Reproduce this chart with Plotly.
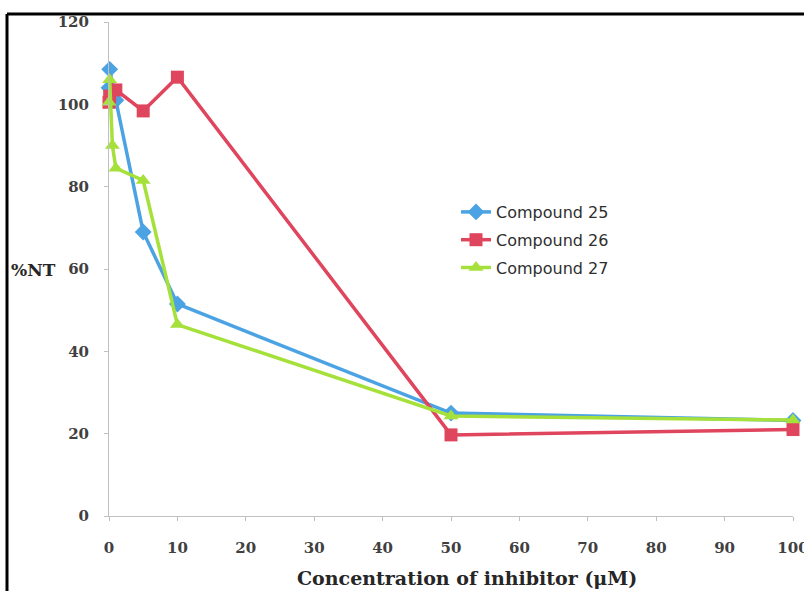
import plotly.graph_objects as go

conc_25 = [0, 0.1, 1, 5, 10, 50, 100]
nt_25 = [104, 108.5, 101, 69, 51.5, 25, 23.2]
conc_26 = [0, 0.1, 1, 5, 10, 50, 100]
nt_26 = [100.5, 102, 103.5, 98.4, 106.6, 19.7, 21]
conc_27 = [0, 0.1, 0.5, 1, 5, 10, 50, 100]
nt_27 = [100.5, 106, 90, 84.5, 81.5, 46.5, 24.3, 23.3]

names = ["Compound 25", "Compound 26", "Compound 27"]
colors = ["#4BA3E3", "#E0455E", "#A6E03A"]
symbols = ["diamond", "square", "triangle-up"]
sizes = [13, 13, 13]
xs = [conc_25, conc_26, conc_27]
ys = [nt_25, nt_26, nt_27]

fig = go.Figure()
for n, c, s, sz, x, y in zip(names, colors, symbols, sizes, xs, ys):
    fig.add_trace(go.Scatter(x=x, y=y, name=n, legendgroup=n, mode="lines+markers",
                             line=dict(color=c, width=3.5),
                             marker=dict(symbol=s, size=sz, color=c),
                             cliponaxis=False))

W, H = 804, 591
x0, x1 = 109, 793
y0, y1 = 516, 22
tickfont = dict(family="DejaVu Serif", size=15, color="#404040", weight="bold")
axis_common = dict(showgrid=False, zeroline=False, showline=True, linecolor="#c0c0c0",
                   linewidth=1, ticks="outside", tickcolor="#c0c0c0", ticklen=4,
                   tickfont=tickfont, ticklabeloverflow="allow", automargin=False)
fig.update_layout(
    width=W, height=H, margin=dict(l=0, r=0, t=0, b=0, pad=0, autoexpand=False),
    paper_bgcolor="white", plot_bgcolor="white",
    xaxis=dict(domain=[x0 / W, x1 / W], range=[0, 100], dtick=10,
               ticklabelstandoff=14, **axis_common),
    yaxis=dict(domain=[(H - y0) / H, (H - y1) / H], range=[0, 120], dtick=20,
               ticklabelstandoff=12, **axis_common),
    legend=dict(x=456 / W, y=1 - 195 / H, xanchor="left", yanchor="top",
                font=dict(family="DejaVu Sans", size=16, color="#2e2e2e"),
                bgcolor="rgba(0,0,0,0)", itemwidth=30, tracegroupgap=4),
    showlegend=True,
)
fig.add_annotation(text="Concentration of inhibitor (μM)", xref="paper", yref="paper",
                   x=467 / W, y=1 - 578 / H, xanchor="center", yanchor="middle",
                   showarrow=False,
                   font=dict(family="DejaVu Serif", size=19, color="#262626", weight="bold"))
fig.add_annotation(text="%NT", xref="paper", yref="paper",
                   x=9 / W, y=1 - 270 / H, xanchor="left", yanchor="middle", showarrow=False,
                   font=dict(family="DejaVu Serif", size=17, color="#262626", weight="bold"))
fig.add_shape(type="line", xref="paper", yref="paper", x0=7 / W, x1=7 / W,
              y0=0, y1=1 - 14 / H, line=dict(color="black", width=3))
fig.add_shape(type="line", xref="paper", yref="paper", x0=7 / W, x1=1,
              y0=1 - 14 / H, y1=1 - 14 / H, line=dict(color="black", width=3))

post = ("document.documentElement.style.overflow='hidden';"
        "document.body.style.margin='0';document.body.style.overflow='hidden';")
fig.write_html("out.html", config={"displayModeBar": False}, post_script=post)
